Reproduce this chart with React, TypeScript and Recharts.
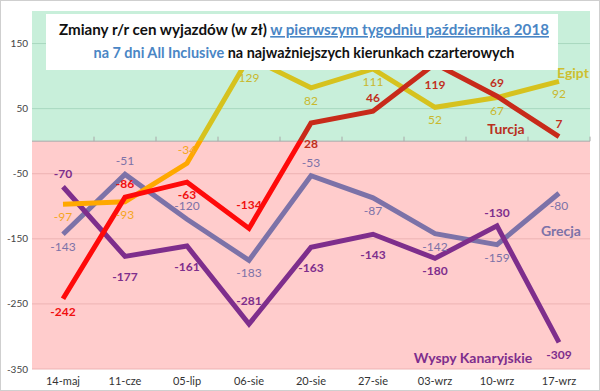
import React from 'react';
import { LineChart, Line, XAxis, YAxis, ReferenceArea, ReferenceLine, LabelList } from 'recharts';

const categories = ['14-maj', '11-cze', '05-lip', '06-sie', '20-sie', '27-sie', '03-wrz', '10-wrz', '17-wrz'];
const egipt = [-97, -93, -34, 129, 82, 111, 52, 67, 92];
const turcja = [-242, -86, -63, -134, 28, 46, 119, 69, 7];
const grecja = [-143, -51, -120, -183, -53, -87, -142, -159, -80];
const wyspy = [-70, -177, -161, -281, -163, -143, -180, -130, -309];
const yTicks = [-350, -250, -150, -50, 50, 150];

// where each value label sits: a = above, A = far above, b = below, B = far below
const egiptPos = ['b', 'b', 'a', 'B', 'b', 'b', 'b', 'b', 'b'];
const turcjaPos = ['b', 'a', 'b', 'A', 'B', 'a', 'B', 'a', 'a'];
const grecjaPos = ['b', 'a', 'a', 'b', 'a', 'b', 'b', 'b', 'b'];
const wyspyPos = ['a', 'B', 'B', 'A', 'B', 'B', 'b', 'a', 'b'];

const data = categories.map((name, i) => ({
  idx: i,
  name,
  egipt: egipt[i],
  turcja: turcja[i],
  grecja: grecja[i],
  wyspy: wyspy[i],
}));

const xTicks = categories.map((_, i) => i);
const boundaries = categories.map((_, i) => i + 0.5);

const FONT = 'Lato, "Open Sans", sans-serif';

const zeroOffset = (arr: number[]) => {
  const max = Math.max(...arr);
  const min = Math.min(...arr);
  return max / (max - min);
};

const shift: Record<string, number> = { a: -9, A: -19, b: 17, B: 25 };

const makeLabel = (pos: string[], colorUp: string, colorDown: string, bold: boolean) => (props: any) => {
  const { x, y, value, index } = props;
  return (
    <text
      x={x}
      y={y + shift[pos[index]]}
      textAnchor="middle"
      fontSize={12}
      fontWeight={bold ? 700 : 400}
      fontFamily={FONT}
      fill={value >= 0 ? colorUp : colorDown}
    >
      {value}
    </text>
  );
};

export default function App() {
  const eOff = zeroOffset(egipt);
  const tOff = zeroOffset(turcja);
  return (
    <div style={{ position: 'absolute', left: 0, top: 0, width: 600, height: 391, background: '#fff', border: '1px solid #cfcfcf', boxSizing: 'border-box', overflow: 'hidden' }}>
      <LineChart width={600} height={391} data={data} margin={{ top: 10, right: 11, left: 0, bottom: 0 }}>
        <defs>
          <linearGradient id="gradEgipt" x1="0" y1="0" x2="0" y2="1">
            <stop offset={0} stopColor="#D6C21E" />
            <stop offset={eOff} stopColor="#D6C21E" />
            <stop offset={eOff} stopColor="#FFA800" />
            <stop offset={1} stopColor="#FFA800" />
          </linearGradient>
          <linearGradient id="gradTurcja" x1="0" y1="0" x2="0" y2="1">
            <stop offset={0} stopColor="#C82A1A" />
            <stop offset={tOff} stopColor="#C82A1A" />
            <stop offset={tOff} stopColor="#FF0A0A" />
            <stop offset={1} stopColor="#FF0A0A" />
          </linearGradient>
        </defs>
        <XAxis
          dataKey="idx"
          type="number"
          domain={[-0.5, 8.5]}
          ticks={xTicks}
          tickFormatter={(i: number) => categories[i]}
          height={23}
          axisLine={false}
          tickLine={false}
          tick={{ fontSize: 11, fill: '#333', fontFamily: FONT }}
        />
        <YAxis
          width={31}
          domain={[-350, 200]}
          ticks={yTicks}
          axisLine={false}
          tickLine={false}
          tickSize={0}
          tickMargin={4}
          tick={{ fontSize: 10, fill: '#444', fontFamily: FONT }}
        />
        <ReferenceArea x1={-0.5} x2={8.5} y1={0} y2={200} fill="#C8EFDA" fillOpacity={1} stroke="none" />
        <ReferenceArea x1={-0.5} x2={8.5} y1={-350} y2={0} fill="#FFCCCC" fillOpacity={1} stroke="none" />
        {yTicks.map((t) => (
          <ReferenceLine key={t} y={t} stroke={t > 0 ? '#A9D8BF' : '#EDB3B3'} strokeWidth={1} />
        ))}
        <ReferenceLine y={0} stroke="#A8A8A8" strokeWidth={1} />
        {boundaries.map((b) => (
          <ReferenceLine key={'t' + b} segment={[{ x: b, y: 0 }, { x: b, y: 7 }]} stroke="#A8A8A8" strokeWidth={1} />
        ))}
        <Line dataKey="grecja" stroke="#7C72A8" strokeWidth={5} dot={false} isAnimationActive={false}>
          <LabelList dataKey="grecja" content={makeLabel(grecjaPos, '#7C72A8', '#7C72A8', false)} />
        </Line>
        <Line dataKey="wyspy" stroke="#7E2E8C" strokeWidth={5} dot={false} isAnimationActive={false}>
          <LabelList dataKey="wyspy" content={makeLabel(wyspyPos, '#7E2E8C', '#7E2E8C', true)} />
        </Line>
        <Line dataKey="egipt" stroke="url(#gradEgipt)" strokeWidth={5} dot={false} isAnimationActive={false}>
          <LabelList dataKey="egipt" content={makeLabel(egiptPos, '#C9B82E', '#F5A623', false)} />
        </Line>
        <Line dataKey="turcja" stroke="url(#gradTurcja)" strokeWidth={5} dot={false} isAnimationActive={false}>
          <LabelList dataKey="turcja" content={makeLabel(turcjaPos, '#C0301E', '#F01010', true)} />
        </Line>
      </LineChart>

      <svg width={600} height={391} style={{ position: 'absolute', left: 0, top: 0, pointerEvents: 'none' }}>
        <rect x={45} y={13} width={512} height={56} fill="#fff" />
        <text x={303} y={34} textAnchor="middle" fontSize={16} fontWeight={700} fontFamily={FONT} textLength={490} lengthAdjust="spacingAndGlyphs">
          <tspan fill="#111">Zmiany r/r cen wyjazdów (w zł) </tspan>
          <tspan fill="#4A86C5" textDecoration="underline">w pierwszym tygodniu października 2018</tspan>
        </text>
        <text x={303} y={57} textAnchor="middle" fontSize={16} fontWeight={700} fontFamily={FONT} textLength={421} lengthAdjust="spacingAndGlyphs">
          <tspan fill="#4A86C5">na 7 dni All Inclusive</tspan>
          <tspan fill="#111"> na najważniejszych kierunkach czarterowych</tspan>
        </text>
        <text x={572} y={77} textAnchor="middle" fontSize={14} fontWeight={700} fontFamily={FONT} fill="#CDBF30">Egipt</text>
        <text x={505} y={133} textAnchor="middle" fontSize={14} fontWeight={700} fontFamily={FONT} fill="#B8301E">Turcja</text>
        <text x={560} y={235} textAnchor="middle" fontSize={14} fontWeight={700} fontFamily={FONT} fill="#7C72A8">Grecja</text>
        <text x={472} y={362} textAnchor="middle" fontSize={14} fontWeight={700} fontFamily={FONT} fill="#7E2E8C">Wyspy Kanaryjskie</text>
      </svg>
    </div>
  );
}
